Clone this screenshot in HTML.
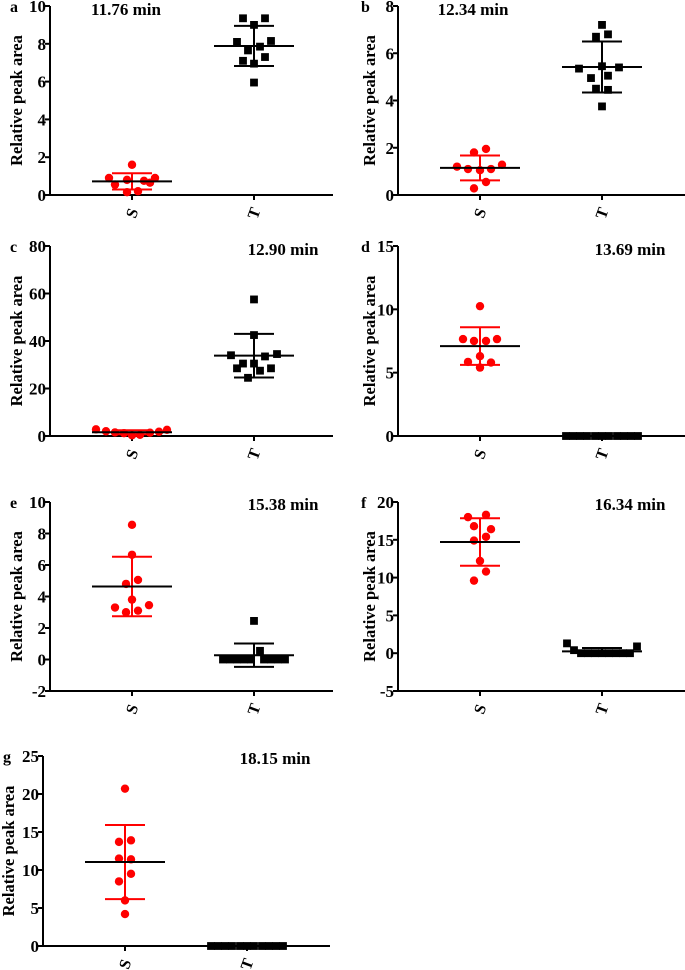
<!DOCTYPE html>
<html><head><meta charset="utf-8">
<style>
html,body{margin:0;padding:0;background:#fff;}
svg{display:block;font-family:"Liberation Serif",serif;font-weight:bold;}
</style></head>
<body>
<svg id="chart" width="685" height="970" viewBox="0 0 685 970" xmlns="http://www.w3.org/2000/svg"></svg>
<script>
// ---- data ----
const panelLabels = ["a","b","c","d","e","f","g"];
const panelTitles = ["11.76 min","12.34 min","12.90 min","13.69 min","15.38 min","16.34 min","18.15 min"];
const categories = ["S","T"];
const yTicksA = [0,2,4,6,8,10];
const yTicksB = [0,2,4,6,8];
const yTicksC = [0,20,40,60,80];
const yTicksD = [0,5,10,15];
const yTicksE = [-2,0,2,4,6,8,10];
const yTicksF = [-5,0,5,10,15,20];
const yTicksG = [0,5,10,15,20,25];
const sA = [0.9,0.55,0.8,1.6,0.15,0.2,0.75,0.65,0.9];
const tA = [9.35,9.35,9.0,8.1,8.15,7.65,7.85,7.1,7.3,6.95,5.95];
const sB = [1.2,1.1,1.05,1.1,1.28,1.8,1.95,0.55,0.28];
const tB = [7.2,6.7,6.8,5.35,5.45,5.4,4.95,5.05,4.5,4.45,3.75];
const sC = [2.8,2.0,1.5,1.2,0.3,0.5,1.4,1.8,2.6];
const tC = [57.5,42.5,34,34.5,33.5,28.5,30.5,30.5,27.5,28.5,24.5];
const sD = [10.25,7.65,7.5,7.5,7.65,6.3,5.85,5.8,5.4];
const tD = [0,0,0,0,0,0,0,0,0,0,0];
const sE = [8.55,6.65,4.8,5.05,3.8,3.3,3.45,3.0,3.1];
const tE = [2.45,0.55,0,0,0,0,0,0,0,0,0];
const sF = [18.0,18.3,16.8,16.4,14.9,15.4,12.2,10.8,9.6];
const tF = [1.3,0.4,0.9,0,0,0,0,0,0,0,0];
const sG = [20.7,13.7,13.9,11.5,11.4,9.5,8.5,6.0,4.2];
const tG = [0,0,0,0,0,0,0,0,0,0,0];
// horizontal jitter (px) for plotted points
const jitS = {a:[-23,-17,-5,0,-5,6,12,18,23], b:[-23,-12,0,11,22,-6,6,6,-6], c:[-36,-26,-17,-8,0,8,18,27,35],
  d:[0,-17,-6,6,17,0,-12,11,0], e:[0,0,-6,6,0,-17,17,-6,6], f:[-12,6,-6,11,-6,6,0,6,-6], g:[0,-6,6,-6,6,6,-6,0,0]};
const jitT = {a:[-11,11,0,-17,17,-6,6,-11,11,0,0], b:[0,-6,6,-23,0,17,-11,6,-6,6,0], c:[0,0,-23,23,11,-17,-11,0,6,17,-6],
  d:[-36,-29,-22,-15,-7,0,7,15,22,29,36], e:[0,6,-31,-24,-17,-10,-3,10,17,24,31], f:[-35,-28,35,-21,-14,-7,0,7,14,21,28],
  g:[-36,-29,-22,-15,-7,0,7,15,22,29,36]};

const panels = [
 {id:"a", s:sA, t:tA, ticks:yTicksA, ax:50, top:6, bot:195, xEnd:333, lx:10, ly:12, ylx:16, tx:126, ty:14},
 {id:"b", s:sB, t:tB, ticks:yTicksB, ax:398, top:6, bot:195, xEnd:685, lx:361, ly:12, ylx:369, tx:473, ty:14},
 {id:"c", s:sC, t:tC, ticks:yTicksC, ax:50, top:246, bot:436, xEnd:333, lx:10, ly:252, ylx:16, tx:283, ty:254},
 {id:"d", s:sD, t:tD, ticks:yTicksD, ax:398, top:246, bot:436, xEnd:685, lx:361, ly:252, ylx:369, tx:630, ty:254},
 {id:"e", s:sE, t:tE, ticks:yTicksE, ax:50, top:502, bot:691, xEnd:333, lx:10, ly:508, ylx:16, tx:283, ty:509},
 {id:"f", s:sF, t:tF, ticks:yTicksF, ax:398, top:502, bot:691, xEnd:685, lx:361, ly:508, ylx:369, tx:630, ty:509},
 {id:"g", s:sG, t:tG, ticks:yTicksG, ax:43, top:756, bot:946, xEnd:330, lx:3, ly:762, ylx:8, tx:275, ty:763}
];

const NS="http://www.w3.org/2000/svg";
const svg=document.getElementById("chart");
function mk(tag,attrs,parent){const e=document.createElementNS(NS,tag);for(const k in attrs)e.setAttribute(k,attrs[k]);(parent||svg).appendChild(e);return e;}
function mean(a){return a.reduce((x,y)=>x+y,0)/a.length;}
function sd(a){const m=mean(a);return Math.sqrt(a.reduce((x,y)=>x+(y-m)*(y-m),0)/(a.length-1));}

panels.forEach((p,pi)=>{
  const g=mk("g",{});
  
  
  const ymin=p.ticks[0], ymax=p.ticks[p.ticks.length-1];
  const y=v=>p.bot-(v-ymin)/(ymax-ymin)*(p.bot-p.top);
  const xS=p.ax+82, xT=p.ax+204;
  const xc=[xS,xT];
  const ya=mk("line",{x1:p.ax,y1:p.top,x2:p.ax,y2:p.bot+1,stroke:"#000","stroke-width":2},g);
  
  
  const xa=mk("line",{x1:p.ax-1,y1:p.bot,x2:p.xEnd,y2:p.bot,stroke:"#000","stroke-width":2},g);
  
  
  p.ticks.forEach(v=>{
    mk("line",{x1:p.ax-5,y1:y(v),x2:p.ax,y2:y(v),stroke:"#000","stroke-width":2},g);
    const t=mk("text",{x:p.ax-4,y:y(v)+6,"text-anchor":"end","font-size":17},g);
    t.textContent=v;
    
    
  });
  categories.forEach((c,i)=>{
    mk("line",{x1:xc[i],y1:p.bot,x2:xc[i],y2:p.bot+5,stroke:"#000","stroke-width":2},g);
    const t=mk("text",{x:0,y:0,"text-anchor":"middle","font-size":16,transform:`translate(${xc[i]+5},${p.bot+20}) rotate(-70)`},g);
    t.textContent=c;
    
    
  });
  const yl=mk("text",{x:0,y:0,"text-anchor":"middle","font-size":16.5,transform:`translate(${p.ylx+6},${(p.top+p.bot)/2}) rotate(-90)`},g);
  yl.textContent="Relative peak area";
  
  
  const pl=mk("text",{x:p.lx,y:p.ly,"font-size":16},g);
  pl.textContent=panelLabels[pi];
  
  
  const tt=mk("text",{x:p.tx,y:p.ty+1,"text-anchor":"middle","font-size":17},g);
  tt.textContent=panelTitles[pi];
  
  
  [p.s,p.t].forEach((vals,si)=>{
    const color=si===0?"#ff0000":"#000";
    const jit=si===0?jitS[p.id]:jitT[p.id];
    vals.forEach((v,k)=>{
      const cx=xc[si]+jit[k], cy=y(v);
      let m;
      if(si===0){m=mk("circle",{cx:cx,cy:cy,r:4.2,fill:color},g);}
      else{m=mk("rect",{x:cx-3.9,y:cy-3.9,width:7.8,height:7.8,fill:color},g);}
      
      
    });
    const m=mean(vals), s=sd(vals);
    const eb=mk("line",{x1:xc[si],y1:y(m+s),x2:xc[si],y2:y(m-s),stroke:color,"stroke-width":2},g);
    
    
    [m+s,m-s].forEach(v=>{
      const cap=mk("line",{x1:xc[si]-20,y1:y(v),x2:xc[si]+20,y2:y(v),stroke:color,"stroke-width":2},g);
      
      
    });
    const ml=mk("line",{x1:xc[si]-40,y1:y(m),x2:xc[si]+40,y2:y(m),stroke:"#000","stroke-width":2},g);
    
    
  });
});
</script>
</body></html>
